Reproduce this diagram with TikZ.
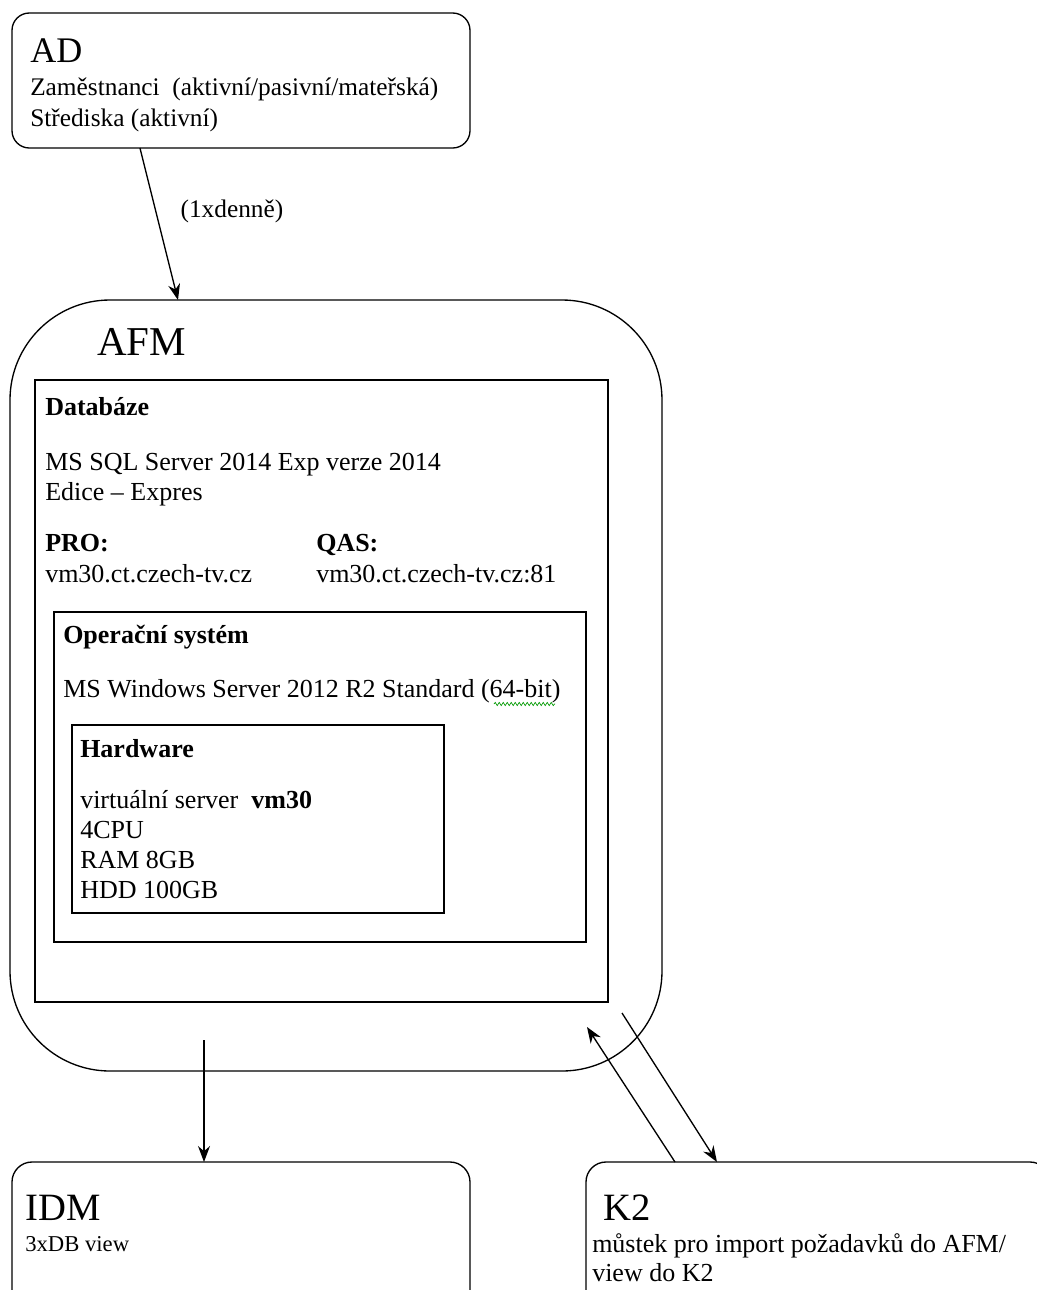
\documentclass[tikz,border=0pt]{standalone}
\usepackage{fontspec}
\setmainfont{Liberation Serif}
\usetikzlibrary{arrows.meta,decorations.pathmorphing}
\begin{document}
\begin{tikzpicture}[x=0.75pt,y=-0.75pt,
  box/.style={draw, line width=1pt, inner sep=0pt, outer sep=0pt},
  rbox/.style={box, rounded corners=15pt},
  txt/.style={anchor=base west, inner sep=0pt, font=\fontsize{19.5pt}{22pt}\selectfont},
  btxt/.style={txt, font=\fontsize{19.5pt}{22pt}\selectfont\bfseries},
  big/.style={anchor=base west, inner sep=0pt},
  conn/.style={line width=1pt, -{Stealth[length=12pt,width=9pt]}}]
\useasboundingbox (0,0) rectangle (1037,1290);
\fill[white] (0,0) rectangle (1037,1290);

% boxes
\node[rbox, rounded corners=13pt, minimum width=343.5pt, minimum height=101.25pt] (ad) at (241,80.5) {};
\node[box, rounded corners=75pt, minimum width=489pt, minimum height=578.25pt] (afm) at (336,685.5) {};
\node[box, minimum width=429.75pt, minimum height=466.5pt] (db) at (321.5,691) {};
\node[box, minimum width=399pt, minimum height=247.5pt] (os) at (320,777) {};
\node[box, minimum width=279pt, minimum height=141pt] (hw) at (258,819) {};
\node[rbox, minimum width=343.5pt, minimum height=111pt] (idm) at (241,1236) {};
\node[rbox, minimum width=348pt, minimum height=111pt] (k2) at (818,1236) {};

% AD texts
\node[big, font=\fontsize{27pt}{30pt}\selectfont] (adt) at (30,62) {AD};
\node[txt, font=\fontsize{19pt}{22pt}\selectfont] (ad1) at (30,95) {Zaměstnanci\ \ (aktivní/pasivní/mateřská)};
\node[txt, font=\fontsize{19pt}{22pt}\selectfont] (ad2) at (30,126) {Střediska (aktivní)};

% AFM texts
\node[big, font=\fontsize{30.75pt}{34pt}\selectfont] (afmt) at (97,355) {AFM};
\node[btxt] (dbt) at (45,415) {Databáze};
\node[txt] (db1) at (45,470) {MS SQL Server 2014 Exp verze 2014};
\node[txt] (db2) at (45,500) {Edice – Expres};
\node[btxt] (pro) at (45,551) {PRO:};
\node[btxt] (qas) at (316,551) {QAS:};
\node[txt] (prov) at (45,582) {vm30.ct.czech-tv.cz};
\node[txt] (qasv) at (316,582) {vm30.ct.czech-tv.cz:81};
\node[btxt] (ost) at (63,643) {Operační systém};
\node[txt] (os1) at (63,697) {MS Windows Server 2012 R2 Standard (64-bit)};
\coordinate (wavA) at (494,704);
\coordinate (wavB) at (555,704);
\draw[green!60!black, line width=0.5pt, decorate, decoration={snake, amplitude=1.2pt, segment length=3pt}] (wavA) -- (wavB);
\node[btxt] (hwt) at (80,757) {Hardware};
\node[txt] (hw1) at (80,808) {virtuální server \ \textbf{vm30}};
\node[txt] (hw2) at (80,838) {4CPU};
\node[txt] (hw3) at (80,868) {RAM 8GB};
\node[txt] (hw4) at (80,898) {HDD 100GB};

% IDM / K2 texts
\node[big, font=\fontsize{29pt}{32pt}\selectfont] (idmt) at (25,1220) {IDM};
\node[txt, font=\fontsize{17pt}{20pt}\selectfont] (idm1) at (25,1251) {3xDB view};
\node[big, font=\fontsize{29pt}{32pt}\selectfont] (k2t) at (603,1220) {K2};
\node[txt] (k21) at (592,1252) {můstek pro import požadavků do AFM/};
\node[txt] (k22) at (592,1281) {view do K2};

% connectors
\draw[conn] ([xshift=96pt]ad.south west) -- node[pos=0.42, right=18pt, inner sep=0pt, font=\fontsize{19pt}{22pt}\selectfont] (lbl) {(1xdenně)} ([xshift=126pt]afm.north west);
\coordinate (afmout) at (204,1040);
\draw[conn] (afmout) -- ([xshift=144pt]idm.north west);
\coordinate (afmin) at (587,1027);
\draw[conn] ([xshift=66.75pt]k2.north west) -- (afmin);
\coordinate (afmout2) at (622,1013);
\draw[conn] (afmout2) -- ([xshift=98.25pt]k2.north west);
\end{tikzpicture}
\end{document}
